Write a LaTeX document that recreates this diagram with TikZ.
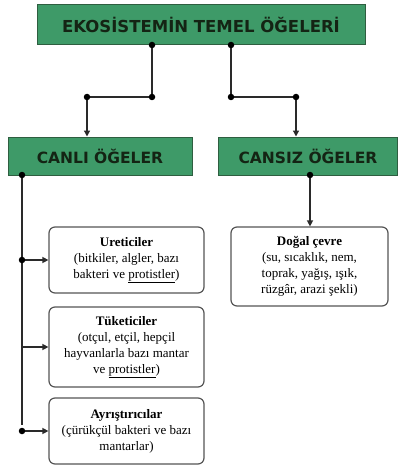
\documentclass[tikz,border=0pt]{standalone}
\usepackage{fontspec}
\setmainfont{Liberation Serif}
\newfontfamily\titlefont{DejaVu Sans}
\usetikzlibrary{arrows.meta}
\definecolor{grn}{HTML}{3E9A68}
\definecolor{grnedge}{HTML}{2E5E40}
\definecolor{linec}{HTML}{2A2A2A}
\definecolor{boxedge}{HTML}{555555}
\definecolor{txtd}{HTML}{142414}
\newcommand{\redul}[1]{\underline{#1}}
\tikzset{
  greenbox/.style={draw=grnedge, line width=1pt, fill=grn, inner sep=0pt, text=txtd, font=\titlefont},
  infobox/.style={draw=boxedge, line width=1.2pt, rounded corners=6pt, fill=white, inner sep=0pt, align=center, font=\fontsize{13}{16}\selectfont, text=black},
  conn/.style={draw=linec, line width=1.3pt},
  arr/.style={conn, -{Triangle[length=6pt,width=6pt]}},
  dot/.style={circle, fill=black, inner sep=0pt, minimum size=6.5pt}
}
\begin{document}
\begin{tikzpicture}[x=1pt,y=-1pt]
\useasboundingbox[fill=white] (0,0) rectangle (398,468);
% green boxes
\node[greenbox, minimum width=328pt, minimum height=40pt, font=\titlefont\bfseries\fontsize{16.5}{17}\selectfont] (top) at (201,25) {EKOSİSTEMİN TEMEL ÖĞELERİ};
\node[greenbox, minimum width=184pt, minimum height=38pt, font=\titlefont\bfseries\fontsize{15.5}{15}\selectfont] (canli) at (100,156) {CANLI ÖĞELER};
\node[greenbox, minimum width=179pt, minimum height=38pt, font=\titlefont\bfseries\fontsize{15.5}{15}\selectfont] (cansiz) at (308,156) {CANSIZ ÖĞELER};
% info boxes
\node[infobox, minimum width=155pt, minimum height=66pt] (uret) at (126.5,260) {\textbf{Ureticiler}\\(bitkiler, algler, bazı\\bakteri ve \redul{protistler})};
\node[infobox, minimum width=155pt, minimum height=80pt] (tuket) at (126.5,347) {\textbf{Tüketiciler}\\(otçul, etçil, hepçil\\hayvanlarla bazı mantar\\ve \redul{protistler})};
\node[infobox, minimum width=155pt, minimum height=66pt] (ayris) at (126.5,431) {\textbf{Ayrıştırıcılar}\\(çürükçül bakteri ve bazı\\mantarlar)};
\node[infobox, minimum width=157pt, minimum height=79pt] (dogal) at (309.5,266.5) {\textbf{Doğal çevre}\\(su, sıcaklık, nem,\\toprak, yağış, ışık,\\rüzgâr, arazi şekli)};
% coordinates
\coordinate (t1) at (152,45);
\coordinate (t2) at (231,45);
\coordinate (j1) at (152,97);
\coordinate (j2) at (87,97);
\coordinate (j3) at (231,97);
\coordinate (j4) at (296,97);
\coordinate (c1) at (22,175);
\coordinate (c2) at (22,425);
\coordinate (s1) at (310,175);
% connectors
\draw[conn] (t1) -- (j1) -- (j2);
\draw[arr] (j2) -- (j2 |- canli.north);
\draw[conn] (t2) -- (j3) -- (j4);
\draw[arr] (j4) -- (j4 |- cansiz.north);
\draw[conn] (c1) -- (c2);
\draw[arr] (uret.west -| c1) -- (uret.west);
\draw[arr] (tuket.west -| c1) -- (tuket.west);
\draw[arr] (ayris.west -| c1) -- (ayris.west);
\draw[arr] (s1) -- (s1 |- dogal.north);
% dots
\foreach \p in {t1,t2,j1,j2,j3,j4,c1,s1}{\node[dot] at (\p) {};}
\node[dot] at (uret.west -| c1) {};
\node[dot] at (ayris.west -| c1) {};
\end{tikzpicture}
\end{document}
